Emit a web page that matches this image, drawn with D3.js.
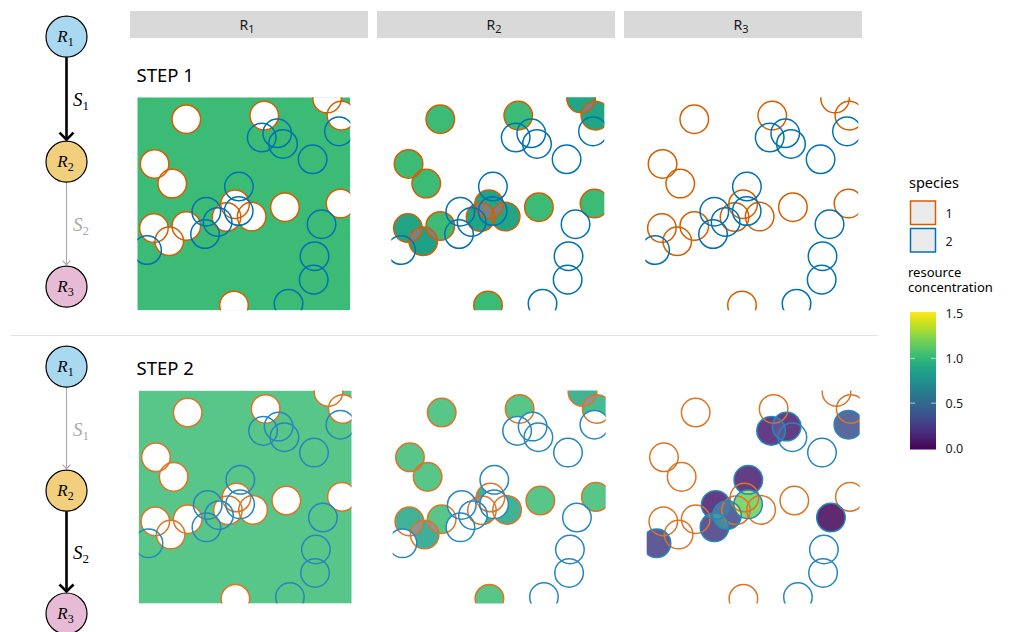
<!DOCTYPE html>
<html><head><meta charset="utf-8">
<script src="https://cdn.jsdelivr.net/npm/d3@7"></script>
<style>body{margin:0;background:#fff}svg{display:block}</style>
</head><body>
<svg id="c" width="1010" height="632"></svg>
<script>
// ---------------- data ----------------
const resources = ["R", "R", "R"];
const resourceSubs = ["1", "2", "3"];
const steps = ["STEP 1", "STEP 2"];
const speciesLabels = ["1", "2"];
const edgeLabels = ["1", "2"];
// species 1 (orange) circle centres, panel units 0..100 (y down)
const sp1X = [23.0, 59.6, 89.1, 95.8, 8.1, 16.4, 45.9, 41.9, 53.7, 69.3, 95.4, 7.8, 23.0, 15.0, 45.4];
const sp1Y = [10.3, 8.6, 0.6, 8.6, 31.3, 40.5, 50.2, 56.2, 56.0, 51.6, 49.9, 61.4, 60.4, 67.6, 97.7];
// species 2 (blue) circle centres
const sp2X = [58.4, 65.7, 68.4, 82.3, 94.7, 47.7, 32.4, 37.7, 47.6, 31.8, 4.6, 86.5, 83.2, 82.8, 71.0];
const sp2Y = [18.9, 16.9, 21.9, 29.1, 16.0, 41.9, 53.7, 58.5, 53.4, 64.2, 71.7, 59.6, 74.6, 85.6, 96.9];
const circleRadius = 6.7;
// resource concentrations
const r1Level = [1.02, 1.02];
const r2ConcStep1 = [1.02, 1.02, 0.88, 0.88, 1.02, 1.02, 0.88, 0.88, 0.88, 1.02, 1.02, 0.88, 1.02, 0.85, 1.02];
const r2ConcStep2 = [1.02, 1.02, 0.88, 0.95, 1.02, 1.02, 0.88, 0.88, 0.88, 1.02, 1.02, 0.88, 1.02, 0.85, 1.02];
const r3ConcStep1 = [null, null, null, null, null, null, null, null, null, null, null, null, null, null, null];
const r3ConcStep2 = [0.12, 0.12, null, null, 0.36, 0.12, 0.12, 0.33, 1.17, 0.25, 0.28, 0.02, null, null, null];
const legendTicks = [0.0, 0.5, 1.0, 1.5];
const concMax = 1.5;

// ---------------- setup ----------------
const svg = d3.select("#c");
const defs = svg.append("defs");
const SANS = "'Noto Sans', 'Open Sans', sans-serif";
const SERIF = "'Liberation Serif', 'DejaVu Serif', serif";
const ORANGE = "#D55E00", BLUE = "#0072B2";
const S = 213;
const panelLeft = [137.3, 391.3, 645.3];
const stepTop = [97.3, 390.6];
const stepShiftX = [0, 1.4];
const stepOpacity = [1, 0.85];
const x = d3.scaleLinear().domain([0, 100]).range([0, S]);
const y = d3.scaleLinear().domain([0, 100]).range([0, S]);
const rpx = x(circleRadius) - x(0);
const color = v => v > concMax ? "#7f7f7f" : d3.interpolateViridis(v / concMax);

function subText(sel, main, sub, size, subSize, italic) {
  const m = sel.append("tspan").text(main);
  if (italic) m.attr("font-style", "italic");
  sel.append("tspan").attr("font-size", subSize).attr("dy", size * 0.22).text(sub);
  return sel;
}

// ---------------- facet strips ----------------
const stripLeft = [130, 377, 624], stripW = 238;
resources.forEach((r, i) => {
  svg.append("rect").attr("x", stripLeft[i]).attr("y", 11).attr("width", stripW).attr("height", 27).attr("fill", "#d9d9d9");
  const t = svg.append("text").attr("x", stripLeft[i] + stripW / 2 - 2).attr("y", 29.5)
    .attr("text-anchor", "middle").attr("font-family", SANS).attr("font-size", 14).attr("fill", "#1a1a1a");
  subText(t, r, resourceSubs[i], 14, 11, false);
});

// separator
svg.append("line").attr("x1", 11).attr("x2", 878).attr("y1", 335.5).attr("y2", 335.5).attr("stroke", "#e3e3e3").attr("stroke-width", 1);

// ---------------- step titles ----------------
steps.forEach((s, k) => {
  svg.append("text").attr("x", 136.5).attr("y", k === 0 ? 82 : 374.5).attr("font-family", SANS)
    .attr("font-size", 18.5).attr("fill", "#000").text(s);
});

// ---------------- panels ----------------
function overlaps(xs, ys, i, j) {
  return Math.hypot(xs[i] - xs[j], ys[i] - ys[j]) < 2 * circleRadius;
}
function fillCircles(layer, xs, ys, conc, key) {
  const idx = conc.map((v, i) => v == null ? -1 : i).filter(i => i >= 0);
  idx.forEach(i => defs.append("clipPath").attr("id", `${key}-c${i}`).append("circle")
    .attr("cx", x(xs[i])).attr("cy", y(ys[i])).attr("r", rpx));
  layer.selectAll(null).data(idx).join("circle")
    .attr("cx", i => x(xs[i])).attr("cy", i => y(ys[i])).attr("r", rpx).attr("fill", i => color(conc[i]));
  const pairs = [];
  idx.forEach(i => idx.forEach(j => { if (i < j && overlaps(xs, ys, i, j)) pairs.push([i, j]); }));
  pairs.forEach(([i, j]) => {
    layer.append("g").attr("clip-path", `url(#${key}-c${i})`).append("circle")
      .attr("cx", x(xs[j])).attr("cy", y(ys[j])).attr("r", rpx).attr("fill", color(conc[i] + conc[j]));
  });
  pairs.forEach(([i, j]) => {
    idx.forEach(k => {
      if (k > j && overlaps(xs, ys, i, k) && overlaps(xs, ys, j, k)) {
        layer.append("g").attr("clip-path", `url(#${key}-c${i})`)
          .append("g").attr("clip-path", `url(#${key}-c${j})`)
          .append("circle").attr("cx", x(xs[k])).attr("cy", y(ys[k])).attr("r", rpx)
          .attr("fill", color(conc[i] + conc[j] + conc[k]));
      }
    });
  });
}
function whiteDisks(layer, xs, ys) {
  layer.selectAll(null).data(xs.map((d, i) => i)).join("circle")
    .attr("cx", i => x(xs[i])).attr("cy", i => y(ys[i])).attr("r", rpx).attr("fill", "#fff");
}
function outlines(layer, xs, ys, col) {
  layer.selectAll(null).data(xs.map((d, i) => i)).join("circle")
    .attr("cx", i => x(xs[i])).attr("cy", i => y(ys[i])).attr("r", rpx)
    .attr("fill", "none").attr("stroke", col).attr("stroke-width", 1.5);
}

steps.forEach((s, k) => {
  resources.forEach((r, ri) => {
    const key = `p${k}${ri}`;
    const g = svg.append("g").attr("transform", `translate(${panelLeft[ri] + stepShiftX[k]},${stepTop[k]})`);
    defs.append("clipPath").attr("id", key + "-clip").append("rect").attr("width", S).attr("height", S);
    const body = g.append("g").attr("clip-path", `url(#${key}-clip)`).attr("opacity", stepOpacity[k]);
    const fillL = body.append("g");
    if (ri === 0) {
      fillL.append("rect").attr("width", S).attr("height", S).attr("fill", color(r1Level[k]));
      whiteDisks(fillL, sp1X, sp1Y);
    } else if (ri === 1) {
      fillCircles(fillL, sp1X, sp1Y, k === 0 ? r2ConcStep1 : r2ConcStep2, key);
      if (k === 1) whiteDisks(fillL, sp2X, sp2Y);
    } else {
      fillCircles(fillL, sp2X, sp2Y, k === 0 ? r3ConcStep1 : r3ConcStep2, key);
    }
    outlines(body.append("g"), sp1X, sp1Y, ORANGE);
    outlines(body.append("g"), sp2X, sp2Y, BLUE);
  });
});

// ---------------- pathway diagrams ----------------
const nodeX = 66.5, nodeR = 20.5;
const nodeYs = [[36.7, 161.7, 286.7], [366.7, 490.7, 613.5]];
const nodeFill = ["#a9d8f1", "#f2cf7d", "#e7bbd5"];
nodeYs.forEach((ys, k) => {
  [0, 1].forEach(e => {
    const active = e === k;
    const col = active ? "#000" : "#a8a8a8";
    const sw = active ? 2.6 : 1.1;
    const y1 = ys[e] + nodeR, y2 = ys[e + 1] - nodeR - 1.5;
    svg.append("line").attr("x1", nodeX).attr("x2", nodeX).attr("y1", y1).attr("y2", y2)
      .attr("stroke", col).attr("stroke-width", sw);
    const hw = active ? 7 : 4;
    svg.append("polyline").attr("points", `${nodeX - hw},${y2 - hw} ${nodeX},${y2} ${nodeX + hw},${y2 - hw}`)
      .attr("fill", "none").attr("stroke", col).attr("stroke-width", sw).attr("stroke-linejoin", "miter");
    const t = svg.append("text").attr("x", 73).attr("y", (ys[e] + ys[e + 1]) / 2 + 7)
      .attr("font-family", SERIF).attr("font-size", 19).attr("fill", active ? "#000" : "#a8a8a8");
    subText(t, "S", edgeLabels[e], 19, 13, true);
  });
  ys.forEach((cy, i) => {
    svg.append("circle").attr("cx", nodeX).attr("cy", cy).attr("r", nodeR)
      .attr("fill", nodeFill[i]).attr("stroke", "#000").attr("stroke-width", 1.2);
    const t = svg.append("text").attr("x", nodeX - 1).attr("y", cy + 5.5).attr("text-anchor", "middle")
      .attr("font-family", SERIF).attr("font-size", 17).attr("fill", "#000");
    subText(t, resources[i], resourceSubs[i], 17, 12, true);
  });
});

// ---------------- legends ----------------
svg.append("text").attr("x", 909).attr("y", 188).attr("font-family", SANS).attr("font-size", 14.5).attr("fill", "#000").text("species");
[ORANGE, BLUE].forEach((c, i) => {
  svg.append("rect").attr("x", 910.5).attr("y", 201 + i * 27.5).attr("width", 25).attr("height", 23.5)
    .attr("fill", "#ebebeb").attr("stroke", c).attr("stroke-width", 1.5);
  svg.append("text").attr("x", 945.5).attr("y", 218 + i * 27.5).attr("font-family", SANS).attr("font-size", 12.5)
    .attr("fill", "#222").text(speciesLabels[i]);
});
const title2 = svg.append("text").attr("x", 908).attr("y", 277).attr("font-family", SANS).attr("font-size", 13).attr("fill", "#000");
title2.append("tspan").attr("x", 908).text("resource");
title2.append("tspan").attr("x", 908).attr("dy", 14.5).text("concentration");

const cb = d3.scaleLinear().domain([0, concMax]).range([448, 313.5]);
const grad = defs.append("linearGradient").attr("id", "vir").attr("x1", 0).attr("y1", 1).attr("x2", 0).attr("y2", 0);
d3.range(0, 1.0001, 0.05).forEach(t => grad.append("stop").attr("offset", t).attr("stop-color", d3.interpolateViridis(t)));
svg.append("rect").attr("x", 910).attr("y", cb(concMax) - 1.5).attr("width", 26).attr("height", cb(0) - cb(concMax) + 3)
  .attr("fill", "url(#vir)");
legendTicks.forEach(v => {
  if (v > 0 && v < concMax) {
    svg.append("line").attr("x1", 910).attr("x2", 915).attr("y1", cb(v)).attr("y2", cb(v)).attr("stroke", "#fff").attr("stroke-opacity", 0.6);
    svg.append("line").attr("x1", 931).attr("x2", 936).attr("y1", cb(v)).attr("y2", cb(v)).attr("stroke", "#fff").attr("stroke-opacity", 0.6);
  }
  svg.append("text").attr("x", 945.5).attr("y", cb(v) + 4.5).attr("font-family", SANS).attr("font-size", 12.5)
    .attr("fill", "#222").text(v.toFixed(1));
});
</script>
</body></html>
